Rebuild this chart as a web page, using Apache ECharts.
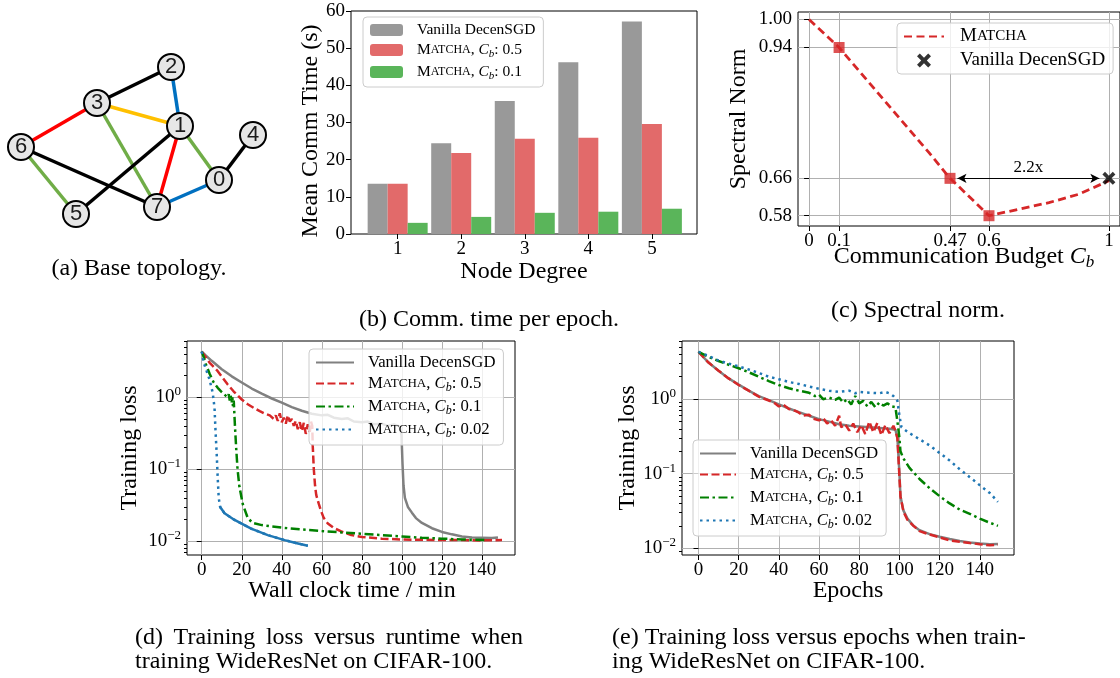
<!DOCTYPE html>
<html>
<head>
<meta charset="utf-8">
<script src="https://cdn.jsdelivr.net/npm/echarts@6/dist/echarts.min.js"></script>
<style>
  html, body { margin: 0; padding: 0; background: #fff; }
  #main { width: 1120px; height: 678px; }
</style>
</head>
<body>
<div id="main"></div>
<script>
var SERIF = '"Liberation Serif", "Times New Roman", serif';
var SANS = '"Liberation Sans", Arial, sans-serif';

// (a) base topology: node ids, node positions and coloured edges
var nodeIds = ['0', '1', '2', '3', '4', '5', '6', '7'];
var nodeX = [219, 180, 171, 97, 253, 76, 21, 157];
var nodeY = [180, 126, 67, 103, 135, 214, 147, 207];
var edgePairs = [[3, 2], [2, 1], [3, 1], [3, 6], [3, 7], [1, 5], [1, 7], [1, 0], [6, 7], [6, 5], [0, 4], [7, 0]];
var edgeKinds = ['k', 'b', 'y', 'r', 'g', 'k', 'r', 'g', 'k', 'g', 'k', 'b'];

// (b) mean comm time per node degree
var nodeDegree = [1, 2, 3, 4, 5];
var commVanilla = [13.5, 24.4, 35.8, 46.2, 57.2];
var commMatcha05 = [13.5, 21.8, 25.6, 25.9, 29.6];
var commMatcha01 = [3.0, 4.6, 5.7, 6.0, 6.8];
var commTicks = [0, 10, 20, 30, 40, 50, 60];

// (c) spectral norm vs communication budget
var budget = [0, 0.1, 0.2, 0.3, 0.4, 0.47, 0.5, 0.6, 0.7, 0.8, 0.9, 1.0];
var spectral = [1.0, 0.94, 0.865, 0.79, 0.715, 0.66, 0.642, 0.58, 0.594, 0.608, 0.626, 0.655];
var budgetMarked = [0.1, 0.47, 0.6];
var spectralMarked = [0.94, 0.66, 0.58];
var vanillaBudget = [1.0];
var vanillaSpectral = [0.66];
var budgetTicks = [0, 0.1, 0.47, 0.6, 1];
var spectralTicks = [0.58, 0.66, 0.94, 1.0];

// (d) training loss vs wall clock time (min)
var runtimeVanilla = [[0,4.3],[2,3.8],[5,3.2],[10,2.45],[15,1.95],[20,1.6],[25,1.32],[30,1.12],[35,0.96],[40,0.84],[45,0.73],[50,0.65],[55,0.59],[60,0.56],[63,0.57],[66,0.52],[70,0.5],[73,0.51],[76,0.46],[80,0.45],[83,0.46],[86,0.42],[90,0.43],[93,0.4],[96,0.42],[99,0.39],[99.8,0.3],[100.3,0.12],[100.8,0.06],[101.5,0.04],[103,0.03],[105,0.025],[107,0.021],[110,0.018],[115,0.0152],[120,0.0135],[125,0.0125],[130,0.0117],[135,0.0113],[140,0.0112],[145,0.0111],[148,0.0113]];
var runtimeMatcha05 = [[0,4.3],[4,3.0],[8,2.3],[13,1.5],[16,1.2],[20,0.93],[23,0.8],[26,0.71],[29,0.64],[31,0.6],[34,0.56],[36,0.5],[37,0.56],[38,0.47],[39,0.6],[40,0.45],[41,0.52],[42,0.43],[43,0.56],[44,0.46],[45,0.5],[46,0.4],[47,0.47],[48,0.36],[49,0.45],[50,0.34],[51,0.44],[52,0.31],[53,0.42],[54,0.33],[54.6,0.46],[55.2,0.4],[55.5,0.2],[56,0.1],[56.6,0.06],[57.2,0.044],[58.5,0.033],[59.7,0.026],[61,0.021],[63,0.0177],[66,0.0153],[69.7,0.0137],[74.7,0.0122],[80,0.0115],[90,0.0109],[100,0.0106],[110,0.0105],[120,0.0104],[130,0.0104],[140,0.0103],[150,0.0104]];
var runtimeMatcha01 = [[0,4.3],[1,3.6],[2,2.9],[4,2.1],[6,1.6],[8,1.35],[10,1.18],[12,1.05],[13,1.0],[13.5,1.1],[14,0.9],[14.5,1.05],[15,0.85],[15.3,1.0],[15.6,0.75],[16,0.9],[16.3,0.6],[16.6,0.4],[17.2,0.2],[17.9,0.1],[18.8,0.058],[20.5,0.033],[23,0.021],[25.5,0.018],[30,0.0168],[40,0.0155],[50,0.0146],[60,0.0139],[70,0.0133],[80,0.0127],[90,0.0122],[100,0.0117],[110,0.0112],[120,0.0109],[130,0.0106],[142,0.0104]];
var runtimeMatcha002 = [[0,4.3],[1,3.0],[2.2,2.42],[3.9,1.76],[5.5,1.15],[6.4,0.71],[6.9,0.34],[7.5,0.16],[8,0.075],[8.5,0.04],[9.2,0.03],[11.4,0.0245],[16.4,0.0198],[24.7,0.015],[33,0.0122],[41.4,0.0104],[47,0.0095],[53,0.0087]];

// (e) training loss vs epochs
var epochVanilla = [[0,4.3],[5,3.1],[10,2.4],[15,1.9],[20,1.57],[25,1.3],[30,1.1],[35,0.97],[40,0.85],[45,0.75],[50,0.67],[55,0.6],[60,0.54],[65,0.5],[70,0.46],[75,0.44],[80,0.43],[85,0.42],[90,0.41],[95,0.4],[98,0.39],[99,0.3],[100,0.1],[100.5,0.05],[102,0.032],[104,0.025],[107,0.02],[110,0.0175],[115,0.0155],[120,0.0143],[125,0.0133],[130,0.0125],[135,0.012],[140,0.0116],[145,0.0113],[149,0.0114]];
var epochMatcha05 = [[0,4.3],[5,3.1],[10,2.4],[15,1.9],[20,1.55],[25,1.3],[30,1.08],[35,0.96],[38,0.88],[40,0.8],[42,0.85],[45,0.74],[48,0.7],[50,0.66],[52,0.6],[55,0.62],[57,0.55],[60,0.52],[62,0.56],[64,0.47],[66,0.52],[68,0.44],[70,0.6],[71,0.42],[73,0.46],[75,0.38],[77,0.47],[79,0.36],[81,0.45],[83,0.34],[85,0.5],[87,0.36],[89,0.48],[91,0.33],[93,0.45],[95,0.35],[97,0.44],[98,0.38],[99,0.3],[100,0.09],[100.5,0.05],[102,0.031],[104,0.024],[107,0.02],[110,0.017],[115,0.0153],[120,0.014],[125,0.0128],[130,0.0122],[135,0.0118],[140,0.0113],[145,0.011],[149,0.0112]];
var epochMatcha01 = [[0,4.3],[5,3.7],[10,3.25],[15,2.9],[20,2.6],[25,2.3],[30,2.0],[35,1.75],[40,1.55],[45,1.4],[50,1.3],[55,1.22],[58,1.1],[60,1.15],[62,1.0],[65,1.05],[68,0.98],[70,1.05],[72,0.9],[74,1.0],[76,0.85],[78,1.1],[80,0.88],[82,0.95],[84,0.8],[86,0.92],[88,0.78],[90,0.9],[92,0.82],[94,0.88],[96,0.8],[98,0.78],[99,0.5],[100,0.3],[100.5,0.2],[102,0.16],[105,0.12],[110,0.085],[115,0.064],[120,0.05],[125,0.04],[130,0.033],[135,0.029],[140,0.025],[145,0.022],[149,0.02]];
var epochMatcha002 = [[0,4.3],[5,3.8],[10,3.3],[15,3.0],[20,2.75],[25,2.5],[30,2.25],[35,2.0],[40,1.85],[45,1.7],[50,1.6],[55,1.48],[60,1.38],[65,1.3],[70,1.25],[75,1.3],[78,1.2],[80,1.25],[85,1.22],[90,1.2],[93,1.25],[95,1.2],[97,1.1],[99,0.95],[100,0.6],[101,0.42],[105,0.35],[110,0.29],[115,0.24],[120,0.19],[125,0.15],[130,0.115],[135,0.09],[140,0.07],[145,0.055],[149,0.042]];

var stepTicks = [0, 20, 40, 60, 80, 100, 120, 140];
var lossTicks = [0.01, 0.1, 1];
var lossMinorTicks = [0.007, 0.008, 0.009, 0.02, 0.03, 0.04, 0.05, 0.06, 0.07, 0.08, 0.09,
                      0.2, 0.3, 0.4, 0.5, 0.6, 0.7, 0.8, 0.9, 2, 3, 4, 5, 6];

var EDGE_COLORS = { k: '#000000', b: '#0070c0', y: '#ffc000', r: '#ff0000', g: '#70ad47' };
var C_GRAY = '#808080', C_RED = '#d62728', C_GREEN = '#008000', C_BLUE = '#1f77b4';

// rich text pieces: small caps MATCHA, italic C with subscript b
function richSet(fs) {
    var lh = Math.round(fs + 4);
    return {
        n: { fontFamily: SERIF, fontSize: fs, color: '#000', lineHeight: lh, verticalAlign: 'middle' },
        sc: { fontFamily: SERIF, fontSize: Math.round(fs * 0.78), color: '#000', lineHeight: lh, verticalAlign: 'middle' },
        it: { fontFamily: SERIF, fontStyle: 'italic', fontSize: fs, color: '#000', lineHeight: lh, verticalAlign: 'middle' },
        sub: { fontFamily: SERIF, fontStyle: 'italic', fontSize: Math.round(fs * 0.7), color: '#000', lineHeight: Math.round(fs * 0.7), verticalAlign: 'bottom' }
    };
}
function matcha(cb) {
    return '{n|M}{sc|ATCHA}' + (cb ? '{n|, }{it|C}{sub|b}{n|: ' + cb + '}' : '');
}
var legendText = {
    b_van: '{n|Vanilla DecenSGD}', b_m05: matcha('0.5'), b_m01: matcha('0.1'),
    c_matcha: matcha(''), c_van: '{n|Vanilla DecenSGD}',
    d_van: '{n|Vanilla DecenSGD}', d_m05: matcha('0.5'), d_m01: matcha('0.1'), d_m002: matcha('0.02'),
    e_van: '{n|Vanilla DecenSGD}', e_m05: matcha('0.5'), e_m01: matcha('0.1'), e_m002: matcha('0.02')
};

function legendCfg(names, left, top, fs, iw, ih, gap, pad, textGap) {
    return {
        orient: 'vertical', left: left, top: top, data: names,
        itemWidth: iw, itemHeight: ih, itemGap: gap, padding: pad,
        backgroundColor: 'rgba(255,255,255,0.8)', borderColor: '#cccccc', borderWidth: 1, borderRadius: 4,
        selectedMode: false,
        formatter: function (n) { return legendText[n]; },
        textStyle: { rich: richSet(fs), padding: [0, 0, 0, textGap] }
    };
}

function supLabel(v) {
    var e = Math.round(Math.log10(v));
    return '{b|10}{s|' + (e < 0 ? '\u2212' + (-e) : e) + '}';
}
var supRich = {
    b: { fontFamily: SERIF, fontSize: 19, color: '#000', lineHeight: 24, verticalAlign: 'middle' },
    s: { fontFamily: SERIF, fontSize: 13, color: '#000', lineHeight: 10, verticalAlign: 'top' }
};

var gridLine = { show: true, lineStyle: { color: '#b0b0b0', width: 1 } };

function valueAxis(grid, min, max, ticks, fmt, withGrid) {
    return {
        type: 'value', gridIndex: grid, min: min, max: max,
        axisLine: { show: false },
        axisTick: { show: true, length: 5, inside: false, customValues: ticks, lineStyle: { color: '#000', width: 1 } },
        axisLabel: { show: true, customValues: ticks, margin: 6, formatter: fmt, fontFamily: SERIF, fontSize: 19, color: '#000' },
        splitLine: withGrid ? gridLine : { show: false }
    };
}
function logAxis(grid, min, max) {
    return {
        type: 'log', logBase: 10, gridIndex: grid, min: min, max: max,
        axisLine: { show: false },
        axisTick: { show: true, length: 5, customValues: lossTicks, lineStyle: { color: '#000' } },
        axisLabel: { show: true, customValues: lossTicks, margin: 6, formatter: supLabel, rich: supRich },
        splitLine: gridLine
    };
}
function minorLogAxis(grid, min, max) {
    return {
        type: 'log', logBase: 10, gridIndex: grid, min: min, max: max, position: 'left',
        axisLine: { show: false },
        axisTick: { show: true, length: 3, customValues: lossMinorTicks, lineStyle: { color: '#000' } },
        axisLabel: { show: false },
        splitLine: { show: false }
    };
}

// itemStyle opacity 0 keeps the legend icon a bare line, like matplotlib
function lineSeries(name, data, xi, yi, color, dash) {
    return {
        type: 'line', name: name, data: data, xAxisIndex: xi, yAxisIndex: yi,
        symbol: 'none', smooth: false, z: 3,
        lineStyle: { color: color, width: 2.5, type: dash || 'solid' },
        itemStyle: { color: color, opacity: 0 }
    };
}
var DASH = [8, 3.5], DASHDOT = [9, 3.5, 2.5, 3.5], DOT = [2.5, 4];

function pairs(xs, ys) { return xs.map(function (x, i) { return [x, ys[i]]; }); }

// graph nodes and links for panel (a)
var graphNodes = nodeIds.map(function (id, i) { return { name: id, x: nodeX[i], y: nodeY[i] }; });
var graphLinks = edgePairs.map(function (p, i) {
    return { source: nodeIds[p[0]], target: nodeIds[p[1]], lineStyle: { color: EDGE_COLORS[edgeKinds[i]] } };
});

// text helpers for captions and axis titles
var measureCtx = document.createElement('canvas').getContext('2d');
function textW(s, size) { measureCtx.font = size + 'px ' + SERIF; return measureCtx.measureText(s).width; }
function txt(s, x, y, size, align, rot, rich) {
    return {
        type: 'text', x: x, y: y, rotation: rot || 0, silent: true,
        style: { text: s, fontFamily: SERIF, fontSize: size, fill: '#000', align: align || 'center', verticalAlign: 'middle', rich: rich }
    };
}
function justified(line, x0, x1, y, size) {
    var words = line.split(' ');
    var ws = words.map(function (w) { return textW(w, size); });
    var total = ws.reduce(function (a, b) { return a + b; }, 0);
    var gap = (x1 - x0 - total) / (words.length - 1);
    var x = x0, out = [];
    words.forEach(function (w, i) { out.push(txt(w, x, y, size, 'left')); x += ws[i] + gap; });
    return out;
}

var titleRich = richSet(24);
var graphics = [
    txt('Mean Comm Time (s)', 311, 131, 24, 'center', Math.PI / 2),
    txt('Node Degree', 524, 272, 24),
    txt('Spectral Norm', 739, 119, 24, 'center', Math.PI / 2),
    txt('{n|Communication Budget }{it|C}{sub|b}', 964, 257, 24, 'center', 0, titleRich),
    txt('Training loss', 130, 448, 24, 'center', Math.PI / 2),
    txt('Wall clock time / min', 352, 591, 24),
    txt('Training loss', 628, 448, 24, 'center', Math.PI / 2),
    txt('Epochs', 848, 591, 24),
    txt('(a) Base topology.', 139, 269, 24),
    txt('(b) Comm. time per epoch.', 489, 320, 24),
    txt('(c) Spectral norm.', 918, 311, 24),
    txt('training WideResNet on CIFAR-100.', 135, 662, 24, 'left'),
    txt('(e) Training loss versus epochs when train-', 612, 638, 24, 'left'),
    txt('ing WideResNet on CIFAR-100.', 612, 662, 24, 'left')
].concat(justified('(d) Training loss versus runtime when', 135, 523, 638, 24));

var myChart = echarts.init(document.getElementById('main'));
var option = {
    animation: false,
    backgroundColor: '#fff',
    grid: [
        { left: 351, top: 11, width: 346, height: 223, show: true, borderColor: '#000', borderWidth: 1, containLabel: false },
        { left: 798, top: 12, width: 326, height: 214, show: true, borderColor: '#000', borderWidth: 1, containLabel: false },
        { left: 187, top: 341, width: 328, height: 214, show: true, borderColor: '#000', borderWidth: 1, containLabel: false },
        { left: 682, top: 341, width: 332, height: 214, show: true, borderColor: '#000', borderWidth: 1, containLabel: false }
    ],
    xAxis: [
        valueAxis(0, 0.266, 5.71, nodeDegree, function (v) { return String(v); }, false),
        valueAxis(1, -0.037, 1.037, budgetTicks, function (v) { return String(v); }, true),
        valueAxis(2, -7.35, 156.5, stepTicks, function (v) { return String(v); }, true),
        valueAxis(3, -8.2, 157, stepTicks, function (v) { return String(v); }, true)
    ],
    yAxis: [
        valueAxis(0, 0, 60, commTicks, function (v) { return String(v); }, false),
        valueAxis(1, 0.558, 1.016, spectralTicks, function (v) { return v.toFixed(2); }, true),
        logAxis(2, 0.00646, 6.03),
        minorLogAxis(2, 0.00646, 6.03),
        logAxis(3, 0.00813, 6.03),
        minorLogAxis(3, 0.00813, 6.03)
    ],
    legend: [
        legendCfg(['b_van', 'b_m05', 'b_m01'], 363, 17, 15.5, 33, 12, 4, [5, 8, 5, 7], 9),
        legendCfg(['c_matcha', 'c_van'], 897, 23, 19, 40, 14, 5, [4, 8, 4, 6], 11),
        legendCfg(['d_van', 'd_m05', 'd_m01', 'd_m002'], 309, 349, 16.7, 38, 12, 4, [5, 8, 5, 6], 9),
        legendCfg(['e_van', 'e_m05', 'e_m01', 'e_m002'], 693, 440, 16.8, 36, 12, 4, [5, 8, 5, 6], 9)
    ],
    graphic: graphics,
    series: [
        {
            type: 'graph', layout: 'none', left: 21, top: 67, width: 232, height: 147,
            roam: false, silent: true, z: 2,
            symbol: 'circle', symbolSize: 26,
            itemStyle: { color: '#e6e6e6', borderColor: '#000', borderWidth: 2 },
            label: { show: true, position: 'inside', fontFamily: SANS, fontSize: 22, color: '#1a1a1a' },
            lineStyle: { width: 3.5, opacity: 1, curveness: 0 },
            data: graphNodes, links: graphLinks
        },
        { type: 'bar', name: 'b_van', xAxisIndex: 0, yAxisIndex: 0, barWidth: 20, barGap: '0%', data: pairs(nodeDegree, commVanilla), itemStyle: { color: '#999999' } },
        { type: 'bar', name: 'b_m05', xAxisIndex: 0, yAxisIndex: 0, barWidth: 20, barGap: '0%', data: pairs(nodeDegree, commMatcha05), itemStyle: { color: '#e26a6a' } },
        { type: 'bar', name: 'b_m01', xAxisIndex: 0, yAxisIndex: 0, barWidth: 20, barGap: '0%', data: pairs(nodeDegree, commMatcha01), itemStyle: { color: '#5ab55a' } },
        {
            type: 'line', name: 'c_matcha', xAxisIndex: 1, yAxisIndex: 1, data: pairs(budget, spectral),
            symbol: 'none', lineStyle: { color: C_RED, width: 2.8, type: [8, 4.5] }, itemStyle: { color: C_RED, opacity: 0 }, z: 3
        },
        {
            type: 'scatter', name: 'c_pts', xAxisIndex: 1, yAxisIndex: 1, data: pairs(budgetMarked, spectralMarked),
            symbol: 'rect', symbolSize: 11, itemStyle: { color: C_RED }, z: 4
        },
        {
            type: 'scatter', name: 'c_van', xAxisIndex: 1, yAxisIndex: 1, data: pairs(vanillaBudget, vanillaSpectral),
            symbol: 'path://M2,0 L5,3 L8,0 L10,2 L7,5 L10,8 L8,10 L5,7 L2,10 L0,8 L3,5 L0,2 Z', symbolSize: 13,
            itemStyle: { color: '#000' }, z: 5,
            markLine: {
                silent: true, animation: false, symbol: ['arrow', 'arrow'], symbolSize: [7, 9],
                lineStyle: { color: '#000', width: 1, type: 'solid' },
                label: { show: true, position: 'middle', formatter: '2.2x', fontFamily: SERIF, fontSize: 17, color: '#000', distance: 2 },
                data: [[{ coord: [0.495, 0.66] }, { coord: [0.968, 0.66] }]]
            }
        },
        lineSeries('d_van', runtimeVanilla, 2, 2, C_GRAY),
        lineSeries('d_m05', runtimeMatcha05, 2, 2, C_RED, DASH),
        lineSeries('d_m01', runtimeMatcha01, 2, 2, C_GREEN, DASHDOT),
        lineSeries('d_m002', runtimeMatcha002, 2, 2, C_BLUE, DOT),
        // the dense noisy tail of the C_b 0.02 run reads as a solid stroke
        lineSeries('d_m002_tail', runtimeMatcha002.slice(10), 2, 2, C_BLUE),
        lineSeries('e_van', epochVanilla, 3, 4, C_GRAY),
        lineSeries('e_m05', epochMatcha05, 3, 4, C_RED, DASH),
        lineSeries('e_m01', epochMatcha01, 3, 4, C_GREEN, DASHDOT),
        lineSeries('e_m002', epochMatcha002, 3, 4, C_BLUE, DOT)
    ]
};
myChart.setOption(option);
</script>
</body>
</html>
